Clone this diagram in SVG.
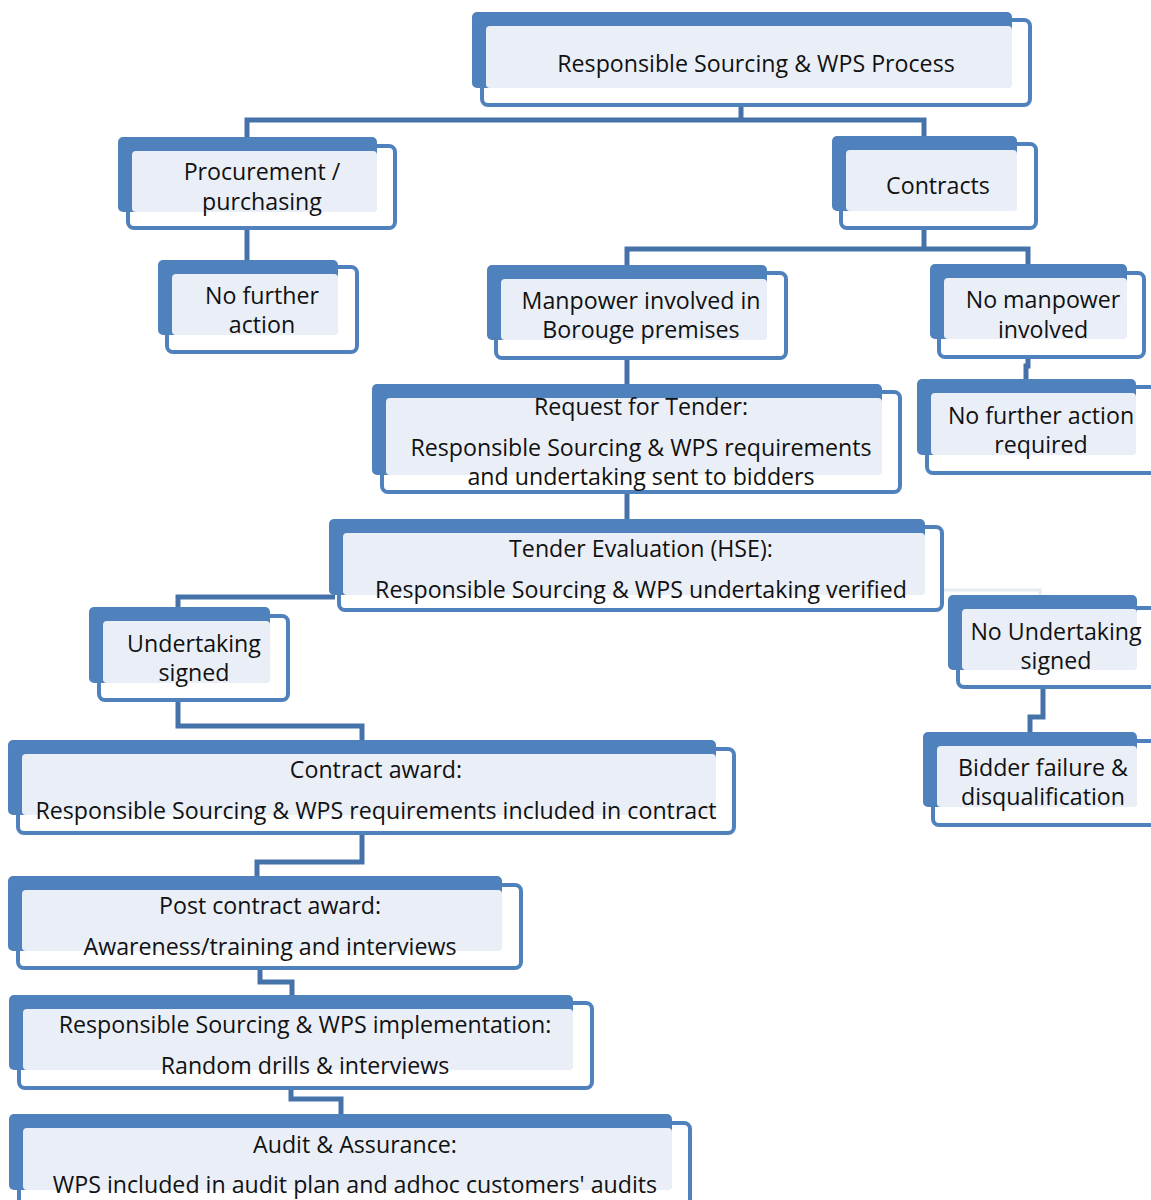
<svg xmlns="http://www.w3.org/2000/svg" width="1151" height="1200" viewBox="0 0 1151 1200">
<style>
.ol{fill:#ffffff;stroke:#4f81bd;stroke-width:4}
.bk{fill:#4f81bd}
.lt{fill:#eaeff7}
.t{font-family:"Open Sans","Liberation Sans",sans-serif;font-size:23.2px;fill:#111;text-anchor:middle}
.c{fill:none;stroke:#4672aa;stroke-width:5}
.cf{fill:none;stroke:#e6ebf3;stroke-width:3}
</style>
<rect width="1151" height="1200" fill="#ffffff"/>
<g id="connectors">
<path class="c" d="M247,137 V120 H924 V136 M741,105 V120"/>
<path class="c" d="M247,228 V260"/>
<path class="c" d="M627,265 V249 H1028 V264 M924,228 V249"/>
<path class="c" d="M1028,357 V366 H1026 V379"/>
<path class="c" d="M627,358 V384"/>
<path class="c" d="M627,492 V519"/>
<path class="c" d="M335,597 H178 V607"/>
<path class="cf" d="M942,590 H1040 V595"/>
<path class="c" d="M178,700 V726 H362 V740"/>
<path class="c" d="M1043,687 V717 H1030 V732"/>
<path class="c" d="M362,833 V862 H257 V876"/>
<path class="c" d="M260,968 V982 H292 V995"/>
<path class="c" d="M291,1088 V1099 H341 V1114"/>
</g>
<g id="n-top">
<rect class="ol" x="482" y="20" width="548" height="85" rx="6"/>
<rect class="bk" x="472" y="12" width="540" height="76" rx="5"/>
<rect class="lt" x="486" y="26" width="526" height="62" rx="4"/>
<text class="t" x="756" y="72">Responsible Sourcing &amp; WPS Process</text>
</g>
<g id="n-procurement">
<rect class="ol" x="128" y="146" width="267" height="82" rx="6"/>
<rect class="bk" x="118" y="137" width="259" height="75" rx="5"/>
<rect class="lt" x="132" y="151" width="245" height="61" rx="4"/>
<text class="t" x="262" y="180">Procurement /</text>
<text class="t" x="262" y="210">purchasing</text>
</g>
<g id="n-contracts">
<rect class="ol" x="841" y="144" width="195" height="84" rx="6"/>
<rect class="bk" x="832" y="136" width="185" height="75" rx="5"/>
<rect class="lt" x="846" y="150" width="171" height="61" rx="4"/>
<text class="t" x="938" y="194">Contracts</text>
</g>
<g id="n-nofurther">
<rect class="ol" x="167" y="267" width="190" height="85" rx="6"/>
<rect class="bk" x="158" y="260" width="180" height="75" rx="5"/>
<rect class="lt" x="172" y="274" width="166" height="61" rx="4"/>
<text class="t" x="262" y="304">No further</text>
<text class="t" x="262" y="333">action</text>
</g>
<g id="n-manpower">
<rect class="ol" x="496" y="273" width="290" height="85" rx="6"/>
<rect class="bk" x="487" y="265" width="280" height="75" rx="5"/>
<rect class="lt" x="501" y="279" width="266" height="61" rx="4"/>
<text class="t" x="641" y="309">Manpower involved in</text>
<text class="t" x="641" y="338">Borouge premises</text>
</g>
<g id="n-nomanpower">
<rect class="ol" x="939" y="273" width="205" height="84" rx="6"/>
<rect class="bk" x="930" y="264" width="197" height="75" rx="5"/>
<rect class="lt" x="944" y="278" width="183" height="61" rx="4"/>
<text class="t" x="1043" y="308">No manpower</text>
<text class="t" x="1043" y="338">involved</text>
</g>
<g id="n-nofurtherreq">
<rect class="ol" x="927" y="387" width="232" height="86" rx="6"/>
<rect class="bk" x="917" y="379" width="219" height="76" rx="5"/>
<rect class="lt" x="931" y="393" width="205" height="62" rx="4"/>
<text class="t" x="1041" y="424">No further action</text>
<text class="t" x="1041" y="453">required</text>
</g>
<g id="n-rft">
<rect class="ol" x="382" y="392" width="518" height="100" rx="6"/>
<rect class="bk" x="372" y="384" width="510" height="91" rx="5"/>
<rect class="lt" x="386" y="398" width="496" height="77" rx="4"/>
<text class="t" x="641" y="415">Request for Tender:</text>
<text class="t" x="641" y="456">Responsible Sourcing &amp; WPS requirements</text>
<text class="t" x="641" y="485">and undertaking sent to bidders</text>
</g>
<g id="n-tender">
<rect class="ol" x="339" y="527" width="603" height="83" rx="6"/>
<rect class="bk" x="329" y="519" width="596" height="76" rx="5"/>
<rect class="lt" x="343" y="533" width="582" height="62" rx="4"/>
<text class="t" x="641" y="557">Tender Evaluation (HSE):</text>
<text class="t" x="641" y="598">Responsible Sourcing &amp; WPS undertaking verified</text>
</g>
<g id="n-undertaking">
<rect class="ol" x="99" y="616" width="189" height="84" rx="6"/>
<rect class="bk" x="89" y="607" width="181" height="76" rx="5"/>
<rect class="lt" x="103" y="621" width="167" height="62" rx="4"/>
<text class="t" x="194" y="652">Undertaking</text>
<text class="t" x="194" y="681">signed</text>
</g>
<g id="n-noundertaking">
<rect class="ol" x="958" y="608" width="202" height="79" rx="6"/>
<rect class="bk" x="948" y="595" width="189" height="75" rx="5"/>
<rect class="lt" x="962" y="609" width="175" height="61" rx="4"/>
<text class="t" x="1056" y="640">No Undertaking</text>
<text class="t" x="1056" y="669">signed</text>
</g>
<g id="n-award">
<rect class="ol" x="18" y="749" width="716" height="84" rx="6"/>
<rect class="bk" x="8" y="740" width="708" height="75" rx="5"/>
<rect class="lt" x="22" y="754" width="694" height="61" rx="4"/>
<text class="t" x="376" y="778">Contract award:</text>
<text class="t" x="376" y="819">Responsible Sourcing &amp; WPS requirements included in contract</text>
</g>
<g id="n-bidder">
<rect class="ol" x="933" y="741" width="227" height="84" rx="6"/>
<rect class="bk" x="923" y="732" width="214" height="75" rx="5"/>
<rect class="lt" x="937" y="746" width="200" height="61" rx="4"/>
<text class="t" x="1043" y="776">Bidder failure &amp;</text>
<text class="t" x="1043" y="805">disqualification</text>
</g>
<g id="n-post">
<rect class="ol" x="18" y="885" width="503" height="83" rx="6"/>
<rect class="bk" x="8" y="876" width="494" height="75" rx="5"/>
<rect class="lt" x="22" y="890" width="480" height="61" rx="4"/>
<text class="t" x="270" y="914">Post contract award:</text>
<text class="t" x="270" y="955">Awareness/training and interviews</text>
</g>
<g id="n-impl">
<rect class="ol" x="19" y="1003" width="573" height="85" rx="6"/>
<rect class="bk" x="9" y="995" width="564" height="75" rx="5"/>
<rect class="lt" x="23" y="1009" width="550" height="61" rx="4"/>
<text class="t" x="305" y="1033">Responsible Sourcing &amp; WPS implementation:</text>
<text class="t" x="305" y="1074">Random drills &amp; interviews</text>
</g>
<g id="n-audit">
<rect class="ol" x="19" y="1123" width="671" height="90" rx="6"/>
<rect class="bk" x="9" y="1114" width="663" height="76" rx="5"/>
<rect class="lt" x="23" y="1128" width="649" height="62" rx="4"/>
<text class="t" x="355" y="1153">Audit &amp; Assurance:</text>
<text class="t" x="355" y="1193">WPS included in audit plan and adhoc customers' audits</text>
</g>
</svg>
